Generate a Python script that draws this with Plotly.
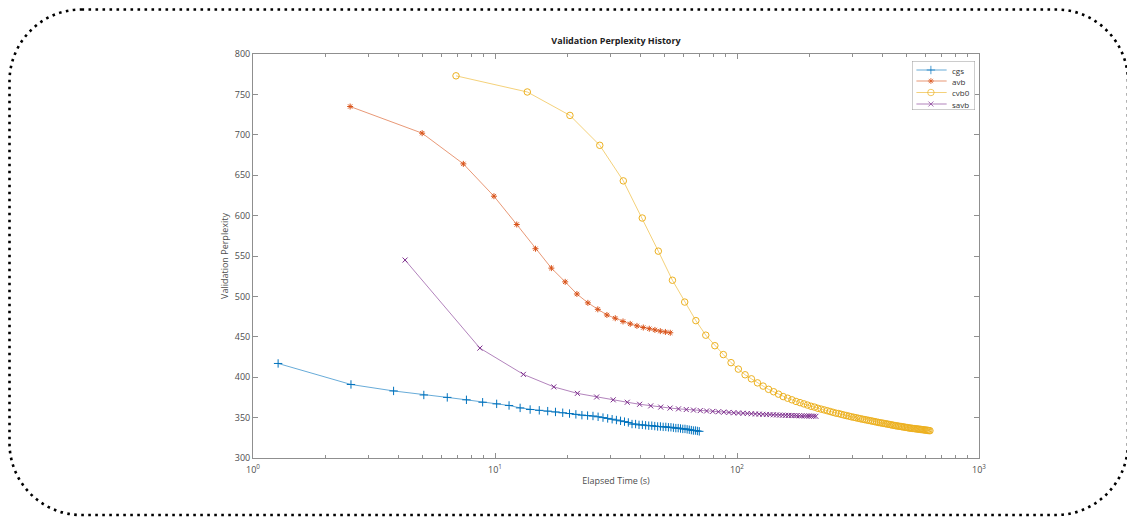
import plotly.graph_objects as go

# ---------------- data ----------------
cgs_t = [1.27, 2.54, 3.81, 5.08, 6.35, 7.62, 8.89, 10.16, 11.43, 12.70, 13.97, 15.24, 16.51, 17.78,
         19.05, 20.32, 21.59, 22.86, 24.13, 25.40, 26.67, 27.94, 29.21, 30.48, 31.75, 33.02, 34.29,
         35.56, 36.83, 38.10, 39.37, 40.64, 41.91, 43.18, 44.45, 45.72, 46.99, 48.26, 49.53, 50.80,
         52.07, 53.34, 54.61, 55.88, 57.15, 58.42, 59.69, 60.96, 62.23, 63.50, 64.77, 66.04, 67.31,
         68.58, 69.85]
cgs_y = [417, 391, 383, 378, 375, 372, 369, 367, 365, 362, 360, 359, 358, 357, 356, 355, 354, 353,
         352.5, 352, 351, 350, 349, 348, 347, 346, 345, 344, 342, 342, 341, 341, 340.5, 340, 340,
         339.5, 339, 339, 338.5, 338.5, 338, 338, 337.5, 337, 337, 336.5, 336, 336, 335.5, 335,
         334.5, 334, 334, 333.5, 333]

avb_t = [2.52, 5.0, 7.4, 9.9, 12.3, 14.7, 17.1, 19.5, 21.8, 24.2, 26.6, 29.0, 31.4, 33.8, 36.2,
         38.6, 41.0, 43.4, 45.8, 48.2, 50.6, 53.0]
avb_y = [735, 702, 664, 624, 589, 559, 535, 518, 503, 492, 484, 477, 473, 469, 466, 463.5, 461.5,
         460, 458.5, 457, 456, 455]

cvb0_t = [6.9, 13.6, 20.4, 27.1, 33.9, 40.6, 47.3, 54.1, 60.8, 67.6, 74.3, 81.0, 87.8, 94.5, 101.3,
          108.0, 114.7, 121.5, 128.2, 135.0, 141.7, 148.4, 155.2, 161.9, 168.7, 175.4, 182.1, 188.9,
          195.6, 202.4, 209.1, 215.8, 222.6, 229.3, 236.1, 242.8, 249.5, 256.3, 263.0, 269.8, 276.5,
          283.2, 290.0, 296.7, 303.5, 310.2, 316.9, 323.7, 330.4, 337.2, 343.9, 350.6, 357.4, 364.1,
          370.9, 377.6, 384.3, 391.1, 397.8, 404.6, 411.3, 418.0, 424.8, 431.5, 438.3, 445.0, 451.7,
          458.5, 465.2, 472.0, 478.7, 485.4, 492.2, 498.9, 505.7, 512.4, 519.1, 525.9, 532.6, 539.4,
          546.1, 552.8, 559.6, 566.3, 573.1, 579.8, 586.5, 593.3, 600.0, 606.8, 613.5, 620.2, 627.0]
cvb0_y = [773, 753, 724, 687, 643, 597, 556, 520, 493, 470, 452, 439, 428, 418, 410, 403, 398, 393,
          389, 385, 382, 379, 376, 374, 372, 370, 368.5, 367, 365.5, 364, 363, 361.5, 360.5, 359.5,
          358.5, 357.5, 356.5, 355.5, 355, 354, 353.2, 352.5, 351.8, 351, 350.4, 349.8, 349.2, 348.6,
          348, 347.5, 347, 346.5, 346, 345.5, 345, 344.5, 344, 343.6, 343.2, 342.8, 342.4, 342,
          341.6, 341.2, 340.8, 340.4, 340, 339.7, 339.4, 339.1, 338.8, 338.5, 338.2, 337.9, 337.6,
          337.3, 337, 336.8, 336.6, 336.4, 336.2, 336, 335.8, 335.6, 335.4, 335.2, 335, 334.8, 334.6,
          334.4, 334.2, 334, 333.8]

savb_t = [4.25, 8.66, 13.1, 17.5, 21.9, 26.3, 30.8, 35.2, 39.6, 44.0, 48.4, 52.9, 57.3, 61.7, 66.1,
          70.5, 74.9, 79.4, 83.8, 88.2, 92.6, 97.0, 101.4, 105.9, 110.3, 114.7, 119.1, 123.5, 127.9,
          132.3, 136.8, 141.2, 145.6, 150.0, 154.4, 158.8, 163.3, 167.7, 172.1, 176.5, 180.9, 185.3,
          189.8, 194.2, 198.6, 203.0, 207.4, 211.8]
savb_y = [545, 436, 403.5, 388, 380, 375.5, 372, 369, 366.5, 364.5, 363, 361.8, 360.8, 360, 359.3,
          358.7, 358.2, 357.7, 357.2, 356.8, 356.4, 356, 355.7, 355.4, 355.1, 354.8, 354.5, 354.3,
          354.1, 353.9, 353.7, 353.5, 353.3, 353.1, 353, 352.8, 352.7, 352.6, 352.5, 352.4, 352.3,
          352.2, 352.1, 352, 351.9, 351.8, 351.7, 351.6]

series_names = ["cgs", "avb", "cvb0", "savb"]

x_tick_vals = [1, 10, 100, 1000]
x_tick_text = ["10<sup>0</sup>", "10<sup>1</sup>", "10<sup>2</sup>", "10<sup>3</sup>"]
x_minor_vals = [2, 3, 4, 5, 6, 7, 8, 9, 20, 30, 40, 50, 60, 70, 80, 90,
                200, 300, 400, 500, 600, 700, 800, 900]
y_tick_vals = [300, 350, 400, 450, 500, 550, 600, 650, 700, 750, 800]

# ---------------- styles ----------------
colors = ["#0072BD", "#D95319", "#EDB120", "#7E2F8E"]
symbols = ["cross-thin-open", "asterisk-open", "circle-open", "x-thin-open"]
msizes = [6, 5, 6.5, 5]
data_t = [cgs_t, avb_t, cvb0_t, savb_t]
data_y = [cgs_y, avb_y, cvb0_y, savb_y]

# The page body has an 8px default margin, so figure px = page px - 8
W, H = 1127, 512
L, R, T, B = 245, 971, 46, 450
FONT = "Open Sans, DejaVu Sans, sans-serif"
AX = "#8f8f8f"

fig = go.Figure()
for name, t, y, col, sym, sz in zip(series_names, data_t, data_y, colors, symbols, msizes):
    fig.add_trace(go.Scatter(
        x=t, y=y, name=name, mode="lines+markers", showlegend=False,
        line=dict(color=col, width=0.6),
        marker=dict(symbol=sym, size=sz, color=col, line=dict(color=col, width=1)),
    ))

# ----- custom compact legend (MATLAB style) on an auxiliary axis pair -----
lg_x0, lg_x1, lg_y0, lg_y1 = 904, 967, 53, 102   # figure px of legend box
dom_x = [(lg_x0 - L) / (R - L), (lg_x1 - L) / (R - L)]
dom_y = [(B - lg_y1) / (B - T), (B - lg_y0) / (B - T)]
entry_py = [62, 73, 84.5, 96]
for name, col, sym, sz, py in zip(series_names, colors, symbols, msizes, entry_py):
    fy = (lg_y1 - py) / (lg_y1 - lg_y0)
    fig.add_trace(go.Scatter(
        x=[0.07, 0.3, 0.55], y=[fy, fy, fy], xaxis="x2", yaxis="y2",
        mode="lines+markers", showlegend=False, hoverinfo="skip",
        line=dict(color=col, width=0.6),
        marker=dict(symbol=sym, size=[0, sz, 0], color=col, line=dict(color=col, width=1)),
    ))
    fig.add_annotation(x=0.6, y=fy, xref="x2", yref="y2", text=name, showarrow=False,
                       xanchor="left", yanchor="middle",
                       font=dict(family=FONT, size=8, color="#333333"))
fig.add_shape(type="rect", xref="x2", yref="y2", x0=0, x1=1, y0=0, y1=1,
              line=dict(color="#9a9a9a", width=1), fillcolor="white", layer="below")

# ----- rounded dotted border -----
def px_to_paper(px, py):
    return (px - L) / (R - L), (B - py) / (B - T)

bx0, by0, bx1, by1, rad = 1.5, 1.5, 1120, 507, 72
k = 0.5523 * rad
pts = [
    ("M", [(bx0 + rad, by0)]),
    ("L", [(bx1 - rad, by0)]),
    ("C", [(bx1 - rad + k, by0), (bx1, by0 + rad - k), (bx1, by0 + rad)]),
    ("L", [(bx1, by1 - rad)]),
    ("C", [(bx1, by1 - rad + k), (bx1 - rad + k, by1), (bx1 - rad, by1)]),
    ("L", [(bx0 + rad, by1)]),
    ("C", [(bx0 + rad - k, by1), (bx0, by1 - rad + k), (bx0, by1 - rad)]),
    ("L", [(bx0, by0 + rad)]),
    ("C", [(bx0, by0 + rad - k), (bx0 + rad - k, by0), (bx0 + rad, by0)]),
]
path = ""
for cmd, pl in pts:
    path += cmd + " " + " ".join("%.5f,%.5f" % px_to_paper(a, b) for a, b in pl) + " "
path += "Z"
fig.add_shape(type="path", path=path, xref="paper", yref="paper",
              line=dict(color="black", width=2.6, dash="2.6px,4.4px"))

axis_common = dict(
    showline=True, linecolor=AX, linewidth=1, mirror="allticks",
    ticks="inside", ticklen=5, tickcolor=AX, showgrid=False, zeroline=False,
    tickfont=dict(family=FONT, size=9, color="#4d4d4d"),
)

fig.update_layout(
    width=W, height=H,
    margin=dict(l=L, r=W - R, t=T, b=H - B),
    paper_bgcolor="white", plot_bgcolor="white",
    font=dict(family=FONT, size=9, color="#333333"),
    title=dict(text="<b>Validation Perplexity History</b>", x=0.5, xref="paper",
               y=1 - 33 / H, yref="container", yanchor="middle",
               font=dict(family=FONT, size=9, color="#222222")),
    xaxis=dict(type="log", range=[0, 3], tickmode="array", tickvals=x_tick_vals,
               ticktext=x_tick_text, ticklabelstandoff=3,
               minor=dict(tickmode="array", tickvals=x_minor_vals, ticks="inside",
                          ticklen=3, tickcolor=AX, showgrid=False),
               title=dict(text="Elapsed Time (s)", standoff=2,
                          font=dict(family=FONT, size=9, color="#4d4d4d")),
               **axis_common),
    yaxis=dict(range=[300, 800], tickmode="array", tickvals=y_tick_vals,
               title=dict(text="Validation Perplexity", standoff=4,
                          font=dict(family=FONT, size=9, color="#4d4d4d")),
               **axis_common),
    xaxis2=dict(domain=dom_x, range=[0, 1], anchor="y2", visible=False, fixedrange=True),
    yaxis2=dict(domain=dom_y, range=[0, 1], anchor="x2", visible=False, fixedrange=True),
    showlegend=False,
)

fig.write_html("out.html")
